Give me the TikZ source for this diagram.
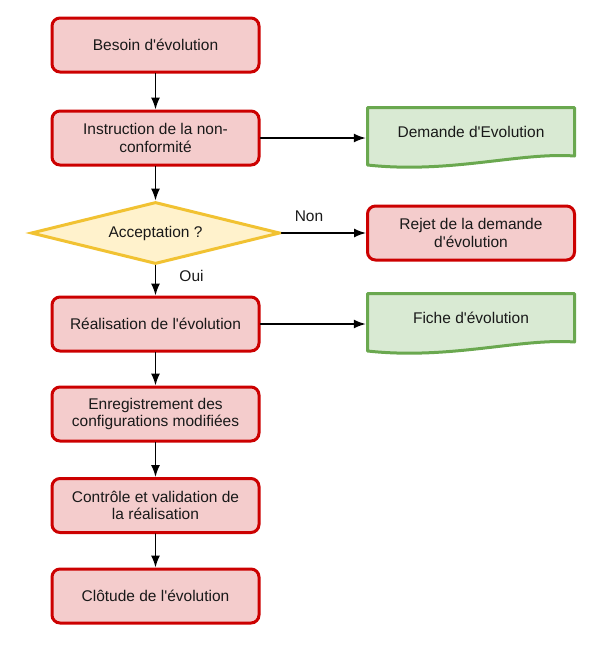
\documentclass[tikz,border=0pt]{standalone}
\usepackage{fontspec}
\setmainfont{Liberation Sans}[Ligatures=TeXOff]
\usetikzlibrary{shapes.geometric,arrows.meta}
\definecolor{stepfill}{HTML}{F4CCCC}
\definecolor{stepred}{HTML}{CC0000}
\definecolor{testfill}{HTML}{FFF2CC}
\definecolor{testyellow}{HTML}{F1C232}
\definecolor{docfill}{HTML}{D9EAD3}
\definecolor{docgreen}{HTML}{6AA84F}
\begin{document}
\begin{tikzpicture}[x=1pt,y=-1pt,line cap=round,>={Latex[length=12pt,width=9pt]},
  every node/.style={font=\fontsize{15.5}{17.7}\selectfont, align=center, text=black!90},
  stepbox/.style={draw=stepred, fill=stepfill, line width=3pt, rounded corners=8pt,
    minimum width=207pt, minimum height=54pt},
  testbox/.style={diamond, draw=testyellow, fill=testfill, line width=3pt, aspect=3.9,
    inner sep=0pt, minimum width=249pt, minimum height=62pt},
  doctext/.style={minimum width=210pt, minimum height=20pt},
  docbox/.style={draw=docgreen, fill=docfill, line width=3pt, line join=round},
  flow/.style={->, line width=1.5pt}]
  \useasboundingbox (0,0) rectangle (606,665);
  % main column
  \node[stepbox] (besoin) at (155.5,45) {Besoin d'évolution};
  \node[stepbox] (instr) at (155.5,138) {Instruction de la non-\\conformité};
  \node[testbox] (accept) at (155.5,233) {Acceptation ?};
  \node[stepbox] (real) at (155.5,324) {Réalisation de l'évolution};
  \node[stepbox] (enreg) at (155.5,414) {Enregistrement des\\configurations modifiées};
  \node[stepbox] (ctrl) at (155.5,505.5) {Contrôle et validation de\\la réalisation};
  \node[stepbox] (clot) at (155.5,596) {Clôtude de l'évolution};
  % right column
  \node[stepbox] (rejet) at (471,233) {Rejet de la demande\\d'évolution};
  \foreach \dy/\nm/\txt in {0/dem/Demande d'Evolution, 186/fic/Fiche d'évolution} {
    \begin{scope}[yshift=-\dy pt]
      \draw[docbox] (367.5,107.5) -- (574.5,107.5) -- (574.5,156)
        .. controls (520,152) and (450,174) .. (367.5,165) -- cycle;
      \node[doctext] (\nm) at (471,132) {\txt};
    \end{scope}
  }
  % connectors
  \draw[flow] (besoin) -- (instr);
  \draw[flow] (instr) -- (accept);
  \draw[flow] (accept) -- (real);
  \draw[flow] (real) -- (enreg);
  \draw[flow] (enreg) -- (ctrl);
  \draw[flow] (ctrl) -- (clot);
  \draw[flow] (instr.east) -- (instr.east -| dem.west);
  \draw[flow] (real.east) -- (real.east -| fic.west);
  \draw[flow] (accept.east) -- (rejet.west);
  \node (non) at (309,216) {Non};
  \node (oui) at (191.5,275.5) {Oui};
\end{tikzpicture}
\end{document}
